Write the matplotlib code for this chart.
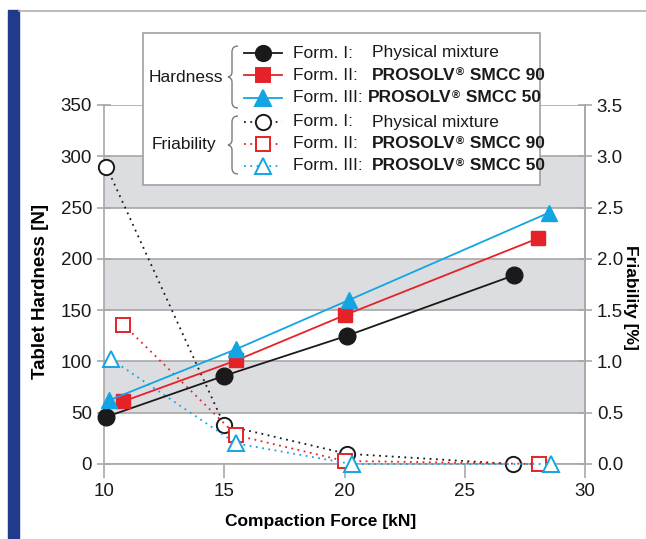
import matplotlib.pyplot as plt
from matplotlib.path import Path
from matplotlib.patches import PathPatch, Rectangle
from matplotlib.lines import Line2D

plt.rcParams['font.family'] = ['Liberation Sans', 'DejaVu Sans']

# hardness [N] vs compaction force [kN]
force_h1 = [10.1, 15.0, 20.1, 27.05]
hard_1 = [46, 86, 125, 184]
force_h2 = [10.8, 15.5, 20.0, 28.05]
hard_2 = [61, 101, 145, 220]
force_h3 = [10.2, 15.5, 20.2, 28.5]
hard_3 = [62, 112, 160, 245]

# friability [%] vs compaction force [kN]
force_f1 = [10.1, 15.0, 20.1, 27.0]
friab_1 = [2.9, 0.38, 0.10, 0.0]
force_f2 = [10.8, 15.5, 20.0, 28.1]
friab_2 = [1.36, 0.28, 0.03, 0.0]
force_f3 = [10.3, 15.5, 20.3, 28.6]
friab_3 = [1.02, 0.20, 0.0, 0.0]

hard_ticks = [0, 50, 100, 150, 200, 250, 300, 350]
friab_ticks = [0.0, 0.5, 1.0, 1.5, 2.0, 2.5, 3.0, 3.5]
force_ticks = [10, 15, 20, 25, 30]
bands = [(50, 100), (150, 200), (250, 300)]

BLACK = '#1a1a1a'
RED = '#e52228'
BLUE = '#13a5e3'
GRID = '#a8a8a8'
BAND = '#dcdde0'
FS = 12.5
TFS = 13.5

W, H = 646, 539
fig = plt.figure(figsize=(W / 100, H / 100), dpi=100)


def fx(px):
    return px / W


def fy(py):
    return 1 - py / H


# decorative frame: blue bar and top rule
fig.patches.append(Rectangle((fx(8), fy(539)), fx(11), fy(10) - fy(539),
                             transform=fig.transFigure, color='#213a8c', zorder=0))
fig.lines.append(Line2D([fx(19), 1], [fy(11), fy(11)], transform=fig.transFigure,
                        color='#b0b0b0', lw=1.2))

ax = fig.add_axes([fx(104), fy(464), fx(585) - fx(104), fy(105) - fy(464)])
ax.set_xlim(10, 30)
ax.set_ylim(0, 350)
for lo, hi in bands:
    ax.axhspan(lo, hi, color=BAND, zorder=0, lw=0)
for t in hard_ticks:
    ax.axhline(t, color=GRID, lw=1.2, zorder=1)

ax.spines['top'].set_visible(False)
for s in ['left', 'right', 'bottom']:
    ax.spines[s].set_color(GRID)
    ax.spines[s].set_linewidth(1.2)
ax.set_xticks(force_ticks)
ax.set_yticks(hard_ticks)
ax.tick_params(axis='both', colors=GRID, labelcolor=BLACK, labelsize=TFS,
               width=1.2, length=10, direction='inout')
ax.tick_params(axis='x', direction='out', length=10)
ax.set_xlabel('Compaction Force [kN]', fontsize=FS, fontweight='bold')
ax.xaxis.set_label_coords(0.45, -0.14)
ax.set_ylabel('Tablet Hardness [N]', fontsize=13.5, fontweight='bold')
ax.yaxis.set_label_coords(-0.115, 0.48)

ax2 = ax.twinx()
ax2.set_ylim(0, 3.5)

dot = (0, (1, 2.5))
# friability (open markers, dotted)
ax2.plot(force_f1, friab_1, ls=dot, color=BLACK, lw=1.3, marker='o', ms=11,
         mfc='white', mec=BLACK, mew=1.4, clip_on=False, zorder=3)
ax2.plot(force_f2, friab_2, ls=dot, color=RED, lw=1.3, marker='s', ms=10,
         mfc='white', mec=RED, mew=1.4, clip_on=False, zorder=3)
ax2.plot(force_f3, friab_3, ls=dot, color=BLUE, lw=1.3, marker='^', ms=12,
         mfc='white', mec=BLUE, mew=1.4, clip_on=False, zorder=3)

# hardness (filled markers, solid) drawn above the friability curves
hard_ax = ax2.twinx()
hard_ax.set_ylim(0, 350)
hard_ax.axis('off')
hard_ax.plot(force_h1, hard_1, '-', color=BLACK, lw=1.3, marker='o', ms=12, clip_on=False)
hard_ax.plot(force_h2, hard_2, '-', color=RED, lw=1.3, marker='s', ms=10, clip_on=False)
hard_ax.plot(force_h3, hard_3, '-', color=BLUE, lw=1.3, marker='^', ms=12, clip_on=False)

# friability axis on the right (twinx moved it left, put it back)
ax2.yaxis.tick_right()
ax2.yaxis.set_label_position('right')
ax2.set_yticks(friab_ticks)
ax2.set_yticklabels([f'{v:.1f}' for v in friab_ticks])
for s in ['top', 'left', 'bottom']:
    ax2.spines[s].set_visible(False)
ax2.spines['right'].set_visible(True)
ax2.spines['right'].set_color(GRID)
ax2.spines['right'].set_linewidth(1.2)
ax2.tick_params(axis='y', colors=GRID, labelcolor=BLACK, labelsize=TFS,
                width=1.2, length=10, direction='inout', left=False, labelleft=False,
                right=True, labelright=True)
ax2.set_ylabel('Friability [%]', fontsize=FS, fontweight='bold', rotation=270)
ax2.yaxis.set_label_coords(1.11, 0.465)

# ---- legend drawn by hand ----
leg_ax = fig.add_axes([0, 0, 1, 1], facecolor='none')
leg_ax.set_xlim(0, W)
leg_ax.set_ylim(H, 0)
leg_ax.axis('off')
leg_ax.add_patch(Rectangle((143, 33), 397, 152, facecolor='white', edgecolor='#a0a0a0', lw=1.2))


def brace(x, y0, y1):
    ym = (y0 + y1) / 2
    verts = [(x + 6, y0), (x, y0), (x, y0 + 6), (x, ym - 5), (x, ym - 1), (x - 4, ym),
             (x, ym + 1), (x, ym + 5), (x, y1 - 6), (x, y1), (x + 6, y1)]
    codes = [Path.MOVETO, Path.CURVE3, Path.CURVE3, Path.LINETO, Path.CURVE3, Path.CURVE3,
             Path.CURVE3, Path.CURVE3, Path.LINETO, Path.CURVE3, Path.CURVE3]
    leg_ax.add_patch(PathPatch(Path(verts, codes), fill=False, edgecolor='#7a7a7a', lw=1.0))


rows = [
    (53, BLACK, 'o', '-', True, 'Form. I:', 'Physical mixture', None),
    (75, RED, 's', '-', True, 'Form. II:', 'PROSOLV', '90'),
    (98, BLUE, '^', '-', True, 'Form. III:', 'PROSOLV', '50'),
    (122, BLACK, 'o', dot, False, 'Form. I:', 'Physical mixture', None),
    (144, RED, 's', dot, False, 'Form. II:', 'PROSOLV', '90'),
    (166, BLUE, '^', dot, False, 'Form. III:', 'PROSOLV', '50'),
]
for y, c, m, ls, filled, lab, name, grade in rows:
    leg_ax.plot([244, 282], [y, y], ls=ls, color=c, lw=1.3)
    leg_ax.plot([263], [y], marker=m, ms=11 if m != 's' else 9.5, color=c,
                mfc=c if filled else 'white', mec=c, mew=1.4)
    leg_ax.text(293, y, lab, fontsize=FS, va='center', ha='left', color=BLACK)
    x0 = 368 if (lab == 'Form. III:' and filled) else 372
    if grade is None:
        leg_ax.text(x0, y, name, fontsize=FS, va='center', ha='left', color=BLACK)
    else:
        t1 = leg_ax.text(x0, y, name, fontsize=FS, va='center', ha='left',
                         color=BLACK, fontweight='bold')
        leg_ax.annotate('®', xy=(1, 1.0), xycoords=t1, va='top', ha='left',
                        fontsize=8, fontweight='bold', color=BLACK)
        leg_ax.annotate(' SMCC ' + grade, xy=(1, 0), xycoords=t1, xytext=(7, 0),
                        textcoords='offset points', va='bottom', ha='left',
                        fontsize=FS, fontweight='bold', color=BLACK)

leg_ax.text(186, 77, 'Hardness', fontsize=FS, va='center', ha='center', color=BLACK)
leg_ax.text(184, 144, 'Friability', fontsize=FS, va='center', ha='center', color=BLACK)
brace(232, 46, 108)
brace(232, 116, 174)

fig.savefig('out.png', dpi=100)
